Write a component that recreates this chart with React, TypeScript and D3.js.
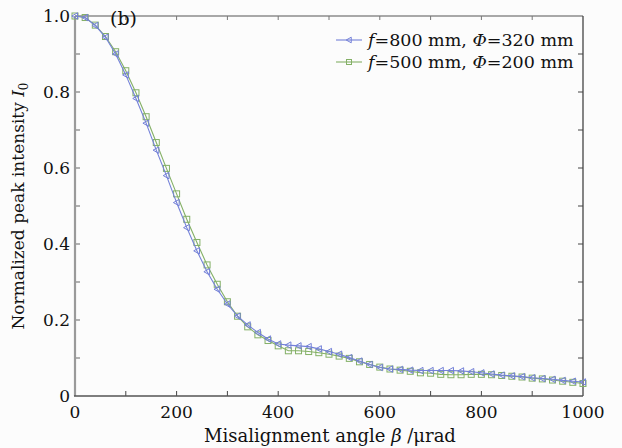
import React, { useEffect, useRef } from "react";
import * as d3 from "d3";

// misalignment angle in urad, one point every 20
const angles = d3.range(0, 1001, 20);

// f=800 mm, Phi=320 mm
const series800 = [
  1.0, 0.996, 0.975, 0.944, 0.9, 0.845, 0.783, 0.718, 0.647, 0.58, 0.509,
  0.443, 0.382, 0.327, 0.281, 0.242, 0.21, 0.187, 0.167, 0.15, 0.137,
  0.134, 0.132, 0.13, 0.124, 0.117, 0.11, 0.101, 0.092, 0.083, 0.075,
  0.071, 0.07, 0.068, 0.067, 0.067, 0.067, 0.067, 0.066, 0.064, 0.061,
  0.058, 0.055, 0.053, 0.051, 0.048, 0.046, 0.044, 0.041, 0.039, 0.037,
];

// f=500 mm, Phi=200 mm
const series500 = [
  1.0, 0.996, 0.976, 0.946, 0.906, 0.856, 0.798, 0.735, 0.667, 0.599, 0.532,
  0.465, 0.404, 0.345, 0.294, 0.248, 0.21, 0.182, 0.161, 0.146, 0.132,
  0.119, 0.119, 0.117, 0.114, 0.11, 0.105, 0.099, 0.09, 0.083, 0.076,
  0.071, 0.068, 0.065, 0.061, 0.06, 0.057, 0.056, 0.056, 0.057, 0.057,
  0.056, 0.054, 0.052, 0.05, 0.047, 0.045, 0.042, 0.039, 0.036, 0.033,
];

const xTicks = [0, 200, 400, 600, 800, 1000];
const yTicks = [0, 0.2, 0.4, 0.6, 0.8, 1.0];

const W = 622;
const H = 448;
const margin = { top: 16, right: 39, bottom: 52, left: 75 };

const blue = "#7380d8";
const green = "#84b066";
const font = "'DejaVu Serif', 'Liberation Serif', serif";

function App() {
  const ref = useRef<SVGSVGElement>(null);

  useEffect(() => {
    const svg = d3.select(ref.current);
    svg.selectAll("*").remove();

    const x = d3
      .scaleLinear()
      .domain([0, 1000])
      .range([margin.left, W - margin.right]);
    const y = d3
      .scaleLinear()
      .domain([0, 1])
      .range([H - margin.bottom, margin.top]);

    svg
      .append("rect")
      .attr("width", W)
      .attr("height", H)
      .attr("fill", "#fcfcfc");

    // frame
    svg
      .append("line")
      .attr("x1", x(0)).attr("x2", x(1000))
      .attr("y1", y(1)).attr("y2", y(1))
      .attr("stroke", "#555").attr("stroke-width", 1);
    svg
      .append("line")
      .attr("x1", x(1000)).attr("x2", x(1000))
      .attr("y1", y(1)).attr("y2", y(0))
      .attr("stroke", "#444").attr("stroke-width", 1.3);

    // minor ticks, inside
    const xMinor = d3.range(100, 1000, 100);
    const yMinor = d3.range(0.1, 1, 0.1);
    xMinor.forEach((v) => {
      svg.append("line")
        .attr("x1", x(v)).attr("x2", x(v))
        .attr("y1", y(0)).attr("y2", y(0) - 5)
        .attr("stroke", "#444");
      svg.append("line")
        .attr("x1", x(v)).attr("x2", x(v))
        .attr("y1", y(1)).attr("y2", y(1) + 4)
        .attr("stroke", "#777");
    });
    yMinor.forEach((v) => {
      svg.append("line")
        .attr("x1", x(0)).attr("x2", x(0) + 5)
        .attr("y1", y(v)).attr("y2", y(v))
        .attr("stroke", "#666");
      svg.append("line")
        .attr("x1", x(1000)).attr("x2", x(1000) - 5)
        .attr("y1", y(v)).attr("y2", y(v))
        .attr("stroke", "#444");
    });

    svg
      .append("line")
      .attr("x1", x(0)).attr("x2", x(0))
      .attr("y1", y(1)).attr("y2", y(0))
      .attr("stroke", "#9a9a9a").attr("stroke-width", 2.2);
    svg
      .append("line")
      .attr("x1", x(0) - 1).attr("x2", x(1000))
      .attr("y1", y(0)).attr("y2", y(0))
      .attr("stroke", "#555").attr("stroke-width", 1.5);

    // tick labels
    svg
      .selectAll(".xt")
      .data(xTicks)
      .enter()
      .append("text")
      .attr("x", (d) => x(d))
      .attr("y", y(0) + 22)
      .attr("text-anchor", "middle")
      .style("font-family", font)
      .style("font-size", "17px")
      .attr("fill", "#111")
      .text((d) => String(d));

    svg
      .selectAll(".yt")
      .data(yTicks)
      .enter()
      .append("text")
      .attr("x", x(0) - 5)
      .attr("y", (d) => y(d) + 6)
      .attr("text-anchor", "end")
      .style("font-family", font)
      .style("font-size", "17px")
      .attr("fill", "#111")
      .text((d) => (d === 0 ? "0" : d.toFixed(1)));

    // axis titles
    const xt = svg
      .append("text")
      .attr("x", (x(0) + x(1000)) / 2 + 1)
      .attr("y", H - 6)
      .attr("text-anchor", "middle")
      .style("font-family", font)
      .style("font-size", "18px")
      .attr("fill", "#111");
    xt.append("tspan").text("Misalignment angle ");
    xt.append("tspan").style("font-style", "italic").text("β");
    xt.append("tspan").text(" /μrad");

    const yt = svg
      .append("text")
      .attr("transform", `translate(24,${(y(0) + y(1)) / 2}) rotate(-90)`)
      .attr("text-anchor", "middle")
      .style("font-family", font)
      .style("font-size", "17px")
      .attr("fill", "#111");
    yt.append("tspan").text("Normalized peak intensity ");
    yt.append("tspan").style("font-style", "italic").text("I");
    yt.append("tspan").attr("dy", 4).style("font-size", "12px").text("0");

    svg
      .append("text")
      .attr("x", 110)
      .attr("y", 25)
      .style("font-family", font)
      .style("font-size", "19px")
      .attr("fill", "#111")
      .text("(b)");

    const line = d3
      .line<number>()
      .x((_, i) => x(angles[i]))
      .y((d) => y(d));

    const triangle = (cx: number, cy: number, r: number) =>
      `M${cx - r},${cy} L${cx + r * 0.8},${cy - r} L${cx + r * 0.8},${cy + r} Z`;

    const drawSeries = (
      vals: number[],
      color: string,
      marker: "tri" | "sq"
    ) => {
      svg
        .append("path")
        .datum(vals)
        .attr("d", line)
        .attr("fill", "none")
        .attr("stroke", color)
        .attr("stroke-width", 1.1);
      const g = svg.append("g");
      vals.forEach((v, i) => {
        if (marker === "sq") {
          g.append("rect")
            .attr("x", x(angles[i]) - 3)
            .attr("y", y(v) - 3)
            .attr("width", 6)
            .attr("height", 6)
            .attr("fill", "none")
            .attr("stroke", color)
            .attr("stroke-width", 1);
        } else {
          g.append("path")
            .attr("d", triangle(x(angles[i]), y(v), 3.2))
            .attr("fill", "none")
            .attr("stroke", color)
            .attr("stroke-width", 1);
        }
      });
    };

    drawSeries(series500, green, "sq");
    drawSeries(series800, blue, "tri");

    // legend
    const legend = [
      { f: "800", p: "320", color: blue, marker: "tri" },
      { f: "500", p: "200", color: green, marker: "sq" },
    ];
    legend.forEach((d, i) => {
      const ly = 40 + i * 22;
      svg.append("line")
        .attr("x1", 336).attr("x2", 362)
        .attr("y1", ly).attr("y2", ly)
        .attr("stroke", d.color).attr("stroke-width", 1.1);
      if (d.marker === "sq") {
        svg.append("rect")
          .attr("x", 346.5).attr("y", ly - 2.5)
          .attr("width", 5).attr("height", 5)
          .attr("fill", "none").attr("stroke", d.color);
      } else {
        svg.append("path")
          .attr("d", triangle(349, ly, 2.8))
          .attr("fill", "none").attr("stroke", d.color);
      }
      const t = svg
        .append("text")
        .attr("x", 368)
        .attr("y", ly + 6)
        .style("font-family", font)
        .style("font-size", "17.5px")
        .attr("fill", "#111");
      t.append("tspan").style("font-style", "italic").text("f");
      t.append("tspan").text(`=${d.f} mm, `);
      t.append("tspan").style("font-style", "italic").text("Φ");
      t.append("tspan").text(`=${d.p} mm`);
    });
  }, []);

  return (
    <div style={{ position: "fixed", left: 0, top: 0 }}>
      <svg ref={ref} width={W} height={H} style={{ display: "block" }} />
    </div>
  );
}

export default App;
